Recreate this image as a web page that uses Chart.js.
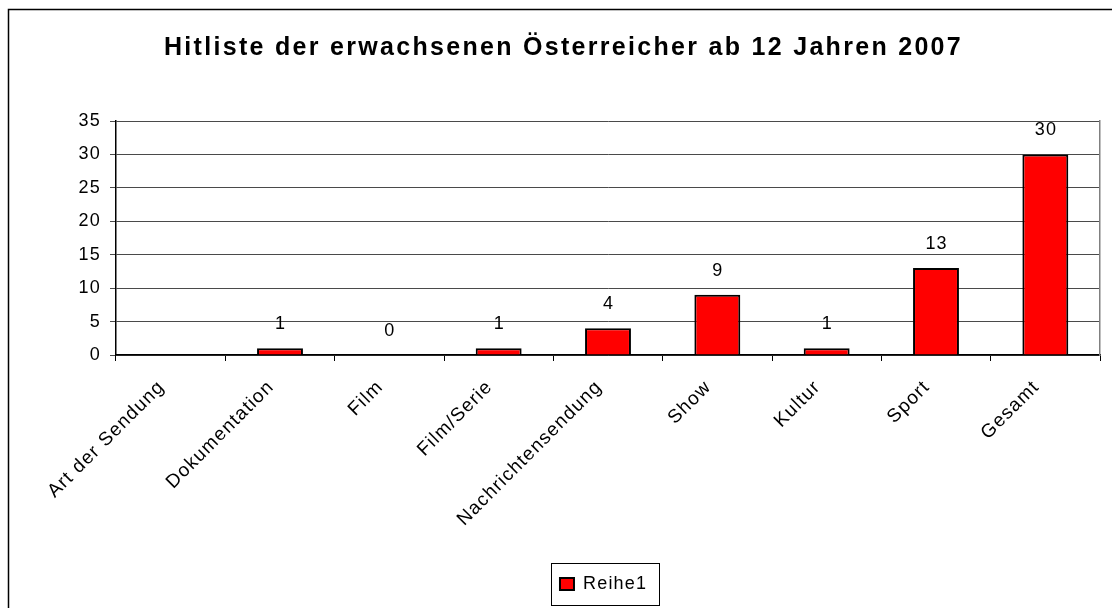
<!DOCTYPE html>
<html><head><meta charset="utf-8">
<script src="https://cdn.jsdelivr.net/npm/chart.js@4"></script>
<style>html,body{margin:0;padding:0;background:#fff}canvas{display:block}</style>
</head><body>
<canvas id="c" width="1112" height="608"></canvas>
<script>
const categories = ["Art der Sendung","Dokumentation","Film","Film/Serie","Nachrichtensendung","Show","Kultur","Sport","Gesamt"];
const values = [null,1,0,1,4,9,1,13,30];
const seriesName = "Reihe1";
const chartTitle = "Hitliste der erwachsenen Österreicher ab 12 Jahren 2007";
const yMin = 0, yMax = 35, yStep = 5;

const FONT = "'Liberation Sans', Arial, sans-serif";
const TXT = 18;
const SPACING = '1.2px';
Chart.defaults.font.family = FONT;
Chart.defaults.color = '#000';

const spacingPlugin = {
  id: 'spacing',
  beforeDraw(chart) {
    chart.ctx.letterSpacing = SPACING;
    const tb = chart.titleBlock;
    if (tb && !tb._wrapped) {
      const orig = tb.draw.bind(tb);
      tb.draw = function (area) {
        const ctx = chart.ctx;
        ctx.save();
        ctx.letterSpacing = '2.3px';
        ctx.translate(9, 0);
        orig(area);
        ctx.restore();
      };
      tb._wrapped = true;
    }
  }
};
const legendPos = {
  id: 'legendPos',
  afterLayout(chart) {
    const lg = chart.legend;
    lg.left = chart.chartArea.left - 8; lg.right = chart.chartArea.right - 8; lg.width = lg.right - lg.left;
  }
};
const valueLabels = {
  id: 'valueLabels',
  afterDatasetsDraw(chart) {
    const ctx = chart.ctx;
    const meta = chart.getDatasetMeta(0);
    ctx.save();
    ctx.font = TXT + "px " + FONT;
    ctx.fillStyle = '#000';
    ctx.textAlign = 'center';
    ctx.textBaseline = 'alphabetic';
    meta.data.forEach((bar, i) => {
      const v = values[i];
      if (v === null || v === undefined) return;
      ctx.fillText(String(v), bar.x + 0.6, bar.y - 19);
    });
    ctx.restore();
  }
};
const frames = {
  id: 'frames',
  afterDraw(chart) {
    const ctx = chart.ctx;
    ctx.save();
    ctx.strokeStyle = '#000';
    ctx.lineWidth = 1.5;
    ctx.strokeRect(8.5, 9.5, 1300, 800);
    const lg = chart.legend;
    const hb = lg.legendHitBoxes && lg.legendHitBoxes[0];
    if (hb) {
      ctx.font = TXT + "px " + FONT;
      const tw = ctx.measureText(seriesName).width;
      const left = hb.left - 9;
      const right = hb.left + 14 + TXT / 2 + tw + 12;
      ctx.lineWidth = 1;
      ctx.strokeRect(Math.round(left) + 0.5, Math.round(hb.top - 12) + 0.5, Math.round(right - left), 42);
    }
    ctx.restore();
  }
};

new Chart(document.getElementById('c'), {
  type: 'bar',
  data: {
    labels: categories,
    datasets: [{
      label: seriesName,
      data: values,
      backgroundColor: '#FF0000',
      borderColor: '#000000',
      borderWidth: 2,
      categoryPercentage: 1,
      barPercentage: 0.42
    }]
  },
  options: {
    responsive: false,
    animation: false,
    devicePixelRatio: 1,
    layout: { padding: { top: 9, left: 9, right: 12, bottom: 5 } },
    plugins: {
      title: {
        display: true, text: chartTitle, color: '#000',
        font: { size: 25, weight: 'bold' },
        padding: { top: 24, bottom: 58 }
      },
      legend: {
        display: true, position: 'bottom',
        labels: { boxWidth: 14, boxHeight: 12, padding: 10, color: '#000', font: { size: TXT } }
      },
      tooltip: { enabled: false }
    },
    scales: {
      x: {
        grid: { offset: true, drawOnChartArea: false, tickLength: 6, color: '#000', lineWidth: 1 },
        border: { color: '#000', width: 1.5 },
        ticks: { minRotation: 45, maxRotation: 45, autoSkip: false, padding: 15, labelOffset: -9, font: { size: 19 }, color: '#000' },
        afterFit(s) { s.height = 210; s.paddingLeft = 0; s.paddingRight = 0; }
      },
      y: {
        min: yMin, max: yMax,
        grid: { color: '#4a4a4a', lineWidth: 1, tickLength: 6 },
        border: { color: '#000', width: 1.5 },
        ticks: { stepSize: yStep, padding: 9, font: { size: TXT }, color: '#000' },
        afterFit(s) { s.width = 107; }
      },
      y2: {
        position: 'right', min: yMin, max: yMax, display: true,
        grid: { display: false, drawTicks: false },
        ticks: { display: false },
        border: { display: true, color: '#808080', width: 1.5 },
        afterFit(s) { s.width = 0; }
      }
    }
  },
  plugins: [spacingPlugin, legendPos, valueLabels, frames]
});
</script>
</body></html>
